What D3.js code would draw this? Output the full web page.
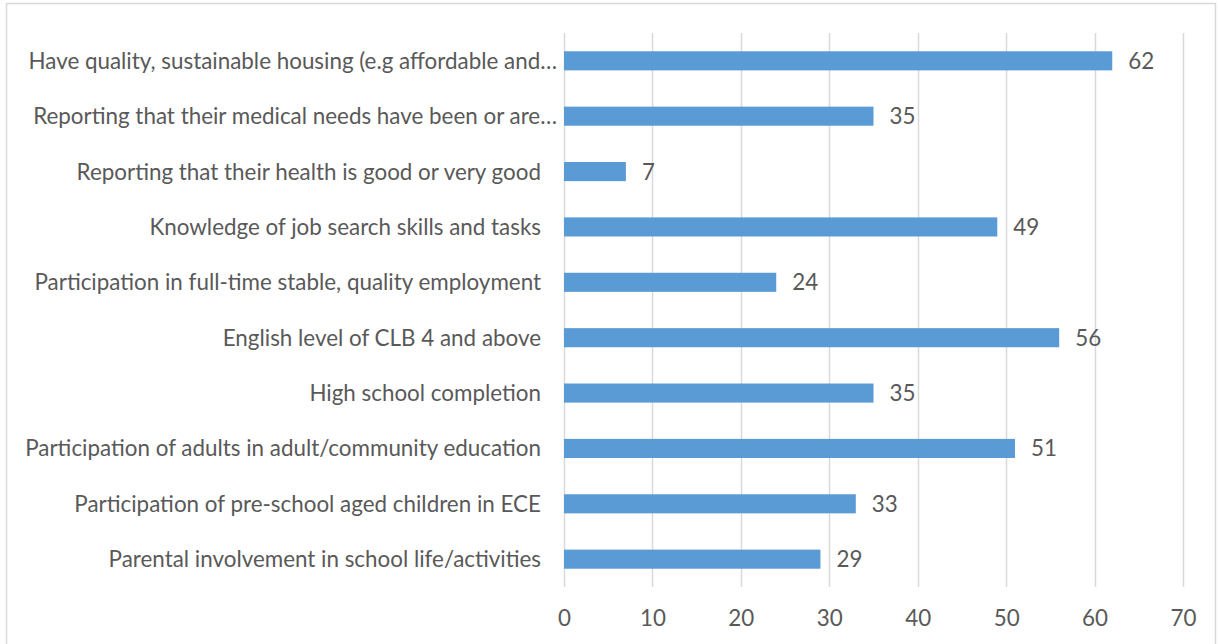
<!DOCTYPE html>
<html>
<head>
<meta charset="utf-8">
<script src="https://cdn.jsdelivr.net/npm/d3@7"></script>
<style>
  html, body { margin: 0; padding: 0; background: #fff; }
  svg { display: block; }
  text { font-family: Lato, "Open Sans", sans-serif; fill: #595959; }
</style>
</head>
<body>
<svg id="chart" width="1218" height="644"></svg>
<script>
// Outcome indicators, listed top to bottom
const categories = [
  "Have quality, sustainable housing (e.g affordable and…",
  "Reporting that their medical needs have been or are…",
  "Reporting that their health is good or very good",
  "Knowledge of job search skills and tasks",
  "Participation in full-time stable, quality employment",
  "English level of CLB 4 and above",
  "High school completion",
  "Participation of adults in adult/community education",
  "Participation of pre-school aged children in ECE",
  "Parental involvement in school life/activities"
];
const values = [62, 35, 7, 49, 24, 56, 35, 51, 33, 29];
const xTicks = [0, 10, 20, 30, 40, 50, 60, 70];

const W = 1218, H = 644;
const margin = { top: 33, right: 35, bottom: 57, left: 564 };
const fontSize = 22.4;

const svg = d3.select("#chart");

// Outer chart frame
svg.append("rect")
  .attr("x", 6.5).attr("y", 3.5)
  .attr("width", W - 9).attr("height", H)
  .attr("fill", "none").attr("stroke", "#D9D9D9").attr("stroke-width", 1.5);

const x = d3.scaleLinear().domain([0, 70]).range([margin.left, W - margin.right]);
const y = d3.scaleBand().domain(categories).range([margin.top, H - margin.bottom]).paddingInner(0.655).paddingOuter(0.33);

// Vertical gridlines
const gridBottom = H - margin.bottom;
svg.append("g").selectAll("line")
  .data(xTicks)
  .join("line")
  .attr("x1", d => Math.round(x(d)) + 0.5)
  .attr("x2", d => Math.round(x(d)) + 0.5)
  .attr("y1", margin.top)
  .attr("y2", gridBottom)
  .attr("stroke", "#D9D9D9")
  .attr("stroke-width", 1.5);

// X axis labels
const xAxis = d3.axisBottom(x).tickValues(xTicks).tickSize(0).tickPadding(0);
const gx = svg.append("g").attr("transform", `translate(0,${gridBottom + 23})`).call(xAxis);
gx.select(".domain").remove();
gx.selectAll("text").attr("font-size", fontSize).attr("font-family", null).attr("fill", "#595959");

// Bars
svg.append("g").selectAll("rect")
  .data(values)
  .join("rect")
  .attr("x", x(0))
  .attr("y", (d, i) => y(categories[i]))
  .attr("width", d => x(d) - x(0))
  .attr("height", y.bandwidth())
  .attr("fill", "#5B9BD5");

// Value labels
svg.append("g").selectAll("text")
  .data(values)
  .join("text")
  .attr("x", d => x(d) + 16)
  .attr("y", (d, i) => y(categories[i]) + y.bandwidth() / 2)
  .attr("dy", "0.36em")
  .attr("font-size", fontSize)
  .attr("fill", "#404040")
  .text(d => d);

// Category labels
svg.append("g").selectAll("text")
  .data(categories)
  .join("text")
  .attr("x", d => d.endsWith("…") ? 557 : 541)
  .attr("y", d => y(d) + y.bandwidth() / 2)
  .attr("dy", "0.36em")
  .attr("text-anchor", "end")
  .attr("font-size", fontSize)
  .text(d => d);
</script>
</body>
</html>
